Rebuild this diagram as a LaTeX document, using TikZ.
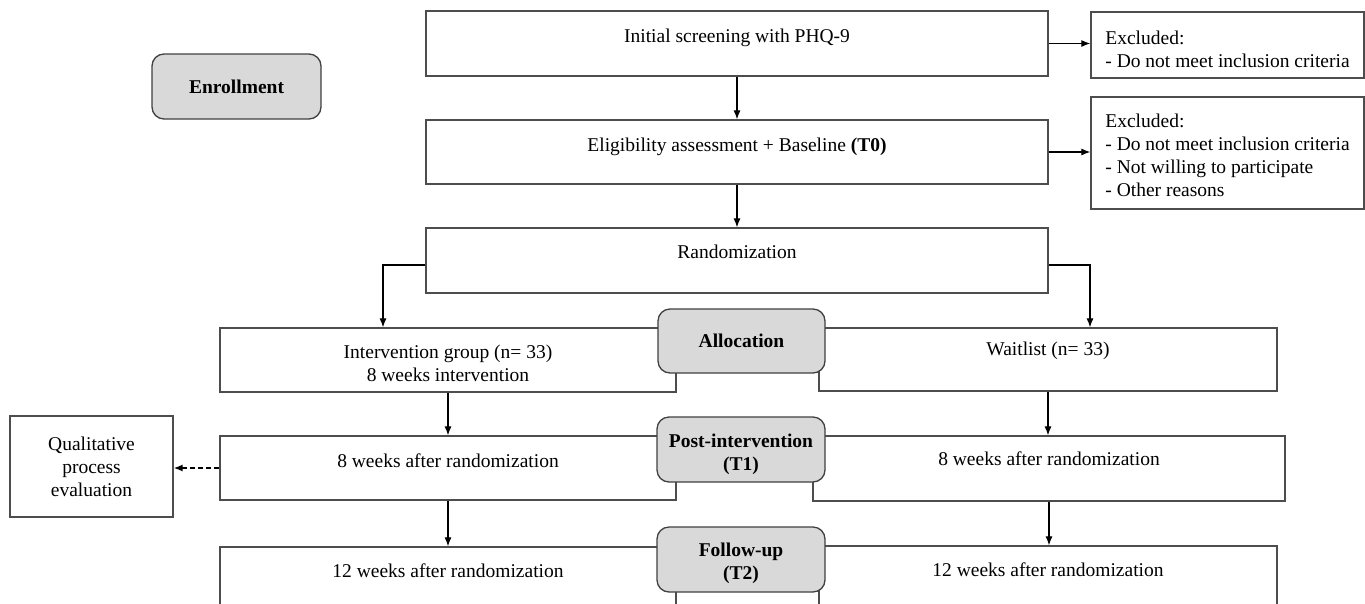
\documentclass[tikz,border=0pt]{standalone}
\usepackage{fontspec}
\setmainfont{Liberation Serif}
\usetikzlibrary{positioning,arrows.meta,calc}
\definecolor{edge}{HTML}{4D4D4D}
\definecolor{phasefill}{HTML}{D9D9D9}
\newcommand{\figfont}{\fontsize{19.5}{23}\selectfont}
\newcommand{\topgap}[1]{\rule{0pt}{#1}}
\tikzset{
box/.style={draw=edge, line width=1.3pt, rectangle, inner sep=0pt, align=center},
excl/.style={box, align=left, minimum width=273pt},
phase/.style={draw=black!75, fill=phasefill, line width=1.3pt, rounded corners=12pt,
  inner sep=0pt, align=center, font=\figfont\bfseries, minimum width=168pt, minimum height=65pt},
lift/.style={text height=13.5pt, text depth=#1},
}

\begin{document}
\begin{tikzpicture}[x=1pt, y=-1pt, font=\figfont, >={Latex[length=9pt,width=7pt]}, line width=1.1pt]
\useasboundingbox (0,0) rectangle (1365,603);
\clip (0,0) rectangle (1365,603);

% enrollment
\node[box, lift=15.5pt, minimum width=622pt, minimum height=65pt] (screen) at (737,43.5) {Initial screening with PHQ-9};
\node[box, lift=14.5pt, minimum width=622pt, minimum height=64pt] (elig) at (737,152) {Eligibility assessment + Baseline \textbf{(T0)}};
\node[box, lift=18.5pt, minimum width=622pt, minimum height=65pt] (rand) at (737,260.5) {Randomization};
\node[excl, minimum height=66pt] (excl1) at (1227.5,45) {\topgap{22pt}Excluded:\\- Do not meet inclusion criteria};
\node[excl, minimum height=112pt] (excl2) at (1227.5,153) {\topgap{18pt}Excluded:\\- Do not meet inclusion criteria\\- Not willing to participate\\- Other reasons};

% arms
\node[box, minimum width=456pt, minimum height=64pt] (interv) at (448,360) {\topgap{19.5pt}Intervention group (n= 33)\\8 weeks intervention};
\node[box, lift=21.5pt, minimum width=458pt, minimum height=63pt] (wait) at (1048,359.5) {Waitlist (n= 33)};
\node[box, lift=15pt, minimum width=456pt, minimum height=64pt] (t1l) at (448,468) {8 weeks after randomization};
\node[box, lift=19.5pt, minimum width=472pt, minimum height=65pt] (t1r) at (1049,468.5) {8 weeks after randomization};
\node[box, lift=17.5pt, minimum width=456pt, minimum height=64pt] (t2l) at (448,579) {12 weeks after randomization};
\node[box, lift=17.5pt, minimum width=458pt, minimum height=64pt] (t2r) at (1048,578) {12 weeks after randomization};
\node[box, minimum width=163pt, minimum height=101pt] (qual) at (91.5,466.5) {Qualitative\\process\\evaluation};

% phases
\node[phase, minimum width=169pt] (enroll) at (236.5,86.5) {Enrollment};
\node[phase, minimum width=167pt, minimum height=64pt] (alloc) at (741.5,341) {Allocation};
\node[phase] (post) at (741,449.5) {\topgap{22.5pt}Post-intervention\\(T1)};
\node[phase] (follow) at (741,559.5) {\topgap{22pt}Follow-up\\(T2)};

% arrows
\draw[->] (screen) -- (elig);
\draw[->] (elig) -- (rand);
\draw[->] (screen.east) -- (screen.east -| excl1.west);
\draw[->] (elig.east) -- (elig.east -| excl2.west);
\draw[->] ([yshift=-4.5pt]rand.west) -| ([xshift=-65pt]interv.north);
\draw[->] ([yshift=-4.5pt]rand.east) -| ([xshift=42pt]wait.north);
\draw[->] (interv) -- (t1l);
\draw[->] (wait) -- (wait |- t1r.north);
\draw[->] (t1l) -- (t2l);
\draw[->] (t1r.south) -- (t1r.south |- t2r.north);
\draw[->, dash pattern=on 5pt off 3pt, line width=1.5pt] (t1l.west) -- (t1l.west -| qual.east);
\end{tikzpicture}
\end{document}
